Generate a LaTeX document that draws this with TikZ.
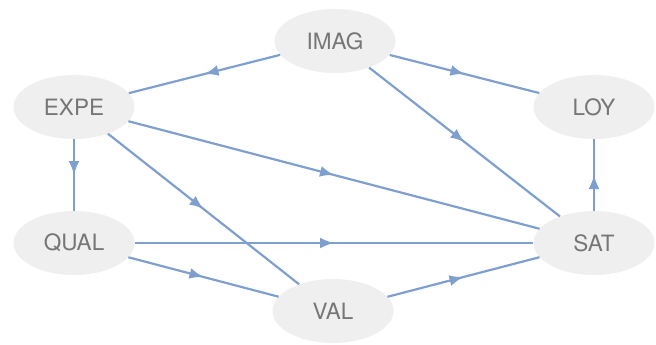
\documentclass[tikz,border=0pt]{standalone}
\usepackage{fontspec}
\setmainfont{TeX Gyre Heros}
\usetikzlibrary{shapes.geometric,arrows.meta,decorations.markings}
\definecolor{nodefill}{HTML}{EFEFEF}
\definecolor{nodetext}{HTML}{767676}
\definecolor{edgeblue}{HTML}{7FA0CE}
\tikzset{
  var/.style={ellipse, fill=nodefill, draw=none, inner sep=0pt,
    minimum width=121pt, minimum height=64pt,
    text=nodetext, font=\fontsize{22.5}{26}\selectfont},
  path/.style={draw=edgeblue, line width=2.2pt,
    decoration={markings, mark=at position 0.5 with
      {\arrow{Latex[length=14pt,width=11pt]}}},
    postaction=decorate},
}
\begin{document}
\begin{tikzpicture}[x=1pt,y=-1pt]
\useasboundingbox (0,0) rectangle (656,345);
\node[var] (imag) at (335,41)  {IMAG};
\node[var] (expe) at (74,107)  {EXPE};
\node[var] (loy)  at (594,107) {LOY};
\node[var] (qual) at (74,243)  {QUAL};
\node[var] (sat)  at (594,243) {SAT};
\node[var] (val)  at (333,311) {VAL};

\draw[path] (imag) -- (expe);
\draw[path] (imag) -- (loy);
\draw[path] (imag) -- (sat);
\draw[path] (expe) -- (qual);
\draw[path] (expe) -- (sat);
\draw[path] (expe) -- (val);
\draw[path] (qual) -- (sat);
\draw[path] (qual) -- (val);
\draw[path] (val) -- (sat);
\draw[path] (sat) -- (loy);
\end{tikzpicture}
\end{document}
